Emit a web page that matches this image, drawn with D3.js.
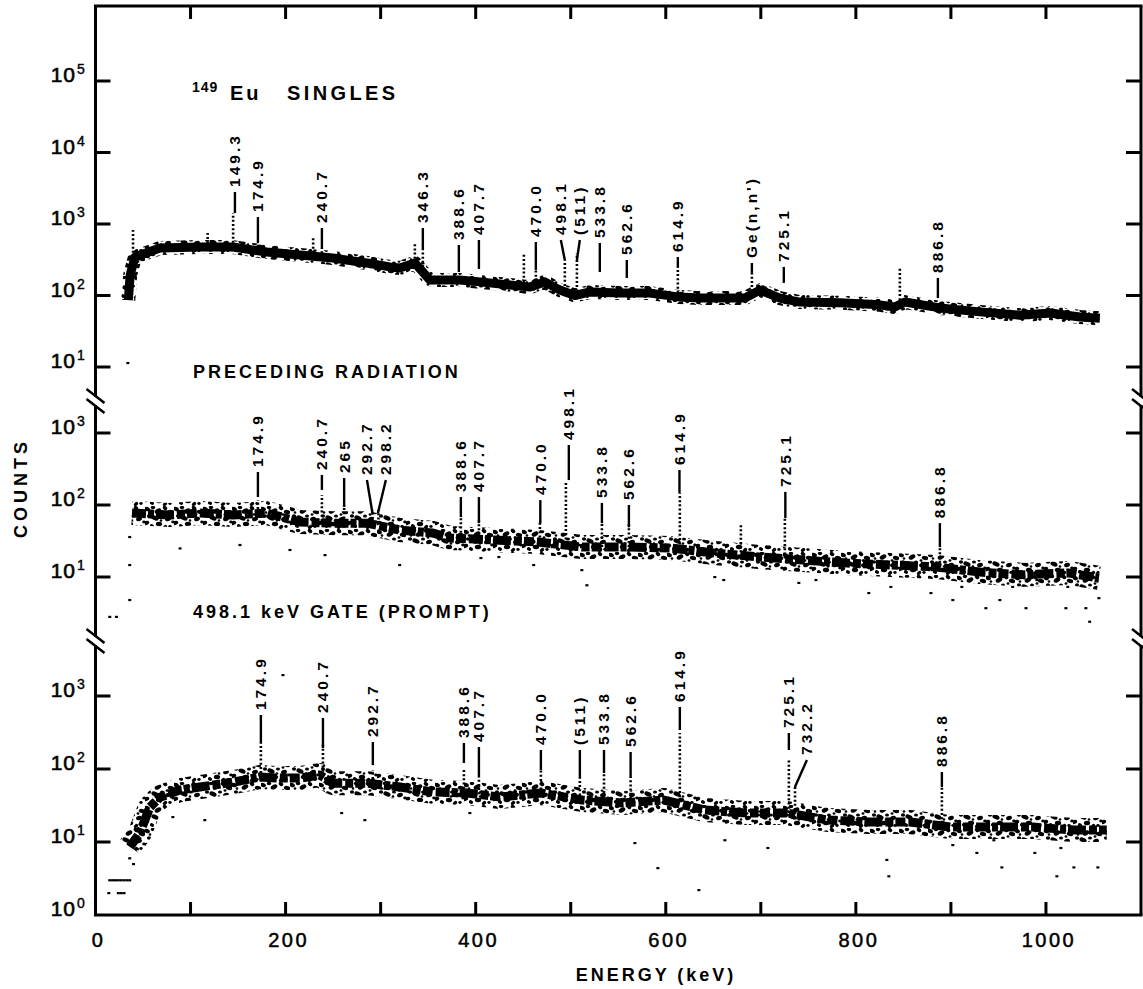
<!DOCTYPE html>
<html>
<head>
<meta charset="utf-8">
<script src="https://cdn.jsdelivr.net/npm/d3@7/dist/d3.min.js"></script>
<style>
  html, body { margin: 0; padding: 0; background: #fff; }
  svg { display: block; }
  text { font-family: "Liberation Sans", Arial, sans-serif; fill: #000; }
</style>
</head>
<body>
<div id="chart"></div>
<script>
// ---------------- data ----------------
// x tick values (keV)
const xTicks = [100, 200, 300, 400, 500, 600, 700, 800, 900, 1000];
const xTickLabels = [0, 200, 400, 600, 800, 1000];

// 149Eu singles: continuum (energy keV, counts)
const singlesE = [34.5, 36.5, 41.5, 67.8, 109.8, 144.6, 180.3, 215, 249.7, 285.5, 309.7, 320.2, 336, 351.8, 383.4, 404.4, 436, 457, 472.8, 488.6, 504.4, 520.2, 551.8, 583.3, 614.9, 635.9, 667.5, 683.3, 699, 720, 741, 783.2, 825.2, 841, 851.6, 888.4, 930.5, 972.6, 1004.1, 1035.7, 1056.7];
const singlesC = [86, 194, 345, 461, 476, 476, 405, 368, 334, 285, 251, 243, 285, 165, 165, 155, 140, 131, 155, 119, 100, 112, 108, 108, 95, 92, 92, 92, 119, 92, 81, 79, 74, 69, 81, 67, 59, 53, 57, 50, 48];
// peaks: [energy, base counts, top counts]
const singlesPeaks = [[39.5, 345, 824], [118, 470, 748], [144.8, 476, 1425], [170.9, 420, 542], [229, 345, 637], [238.2, 340, 461], [336, 285, 542], [344.4, 250, 433], [450.7, 135, 393], [463.3, 140, 228], [493.8, 119, 314], [506.5, 100, 393], [612.7, 95, 243], [690.6, 100, 207], [846.3, 75, 251]];
const singlesStray = [[34, 11.4]];
// labels: [text, text energy, leader end energy, leader top counts, leader bottom counts]
const singlesLabels = [
  ["149.3", 146.7, 146.7, 2805, 1425], ["174.9", 170.9, 170.9, 1254, 542], ["240.7", 238.2, 238.2, 879, 461],
  ["346.3", 344.4, 344.4, 879, 433], ["388.6", 382.3, 382.3, 508, 213], ["407.7", 403.4, 403.4, 597, 235],
  ["470.0", 463.3, 463.3, 560, 228], ["498.1", 489.6, 493.8, 597, 314], ["(511)", 509.6, 506.5, 597, 314],
  ["533.8", 530.6, 530.6, 542, 213], ["562.6", 559, 559, 314, 176], ["614.9", 612.7, 612.7, 345, 243],
  ["Ge(n,n')", 690.6, 690.6, 285, 207], ["725.1", 724.2, 724.2, 251, 150], ["886.8", 886.3, 886.3, 176, 92]
];

// preceding radiation
const precedingE = [38.4, 78.3, 109.8, 144.6, 180.3, 215, 249.7, 285.5, 320.2, 354.9, 372.8, 419.2, 465.5, 511.8, 559.1, 605.4, 651.7, 698, 744.2, 790.5, 836.9, 884.2, 930.5, 976.8, 1023.1, 1055.7];
const precedingC = [77.4, 72.6, 77.4, 72.6, 77.4, 58, 56, 56, 45, 40.8, 34.8, 32.7, 30.6, 26.1, 26.1, 25.3, 21.5, 19, 17.2, 15.6, 14.7, 13.8, 11.7, 10.7, 11.4, 9.7];
const precedingPeaks = [[170.9, 77, 117], [238.2, 60, 138], [261.6, 57, 100], [291.4, 56, 85], [297.7, 55, 85], [384.4, 36, 68], [403.4, 34, 61], [467.6, 31, 61], [494.9, 29, 202], [532.8, 26, 58], [561.2, 26, 56], [614.8, 25, 147], [679, 22, 52.6], [725.3, 18, 66], [888.4, 13.8, 26]];
const precedingStray = [[936.8, 3.7], [979, 3.7], [1042, 3.7], [1046, 2.4], [1021, 3.7], [951.5, 4.8], [902, 4.8], [965, 7.3], [911.5, 7.3], [990.5, 9.1], [1023, 7.3], [1055.7, 5.1], [813.6, 6], [879, 6], [836.8, 7.3], [740, 8.3], [758, 9.1], [661, 9.1], [651.6, 10], [517, 7.7], [511.7, 12.5], [461, 14.7], [424.4, 19], [405.5, 18.4], [36, 36], [36, 14.7], [36, 4.8], [15, 2.8], [22, 2.8], [89, 25], [152, 27.9], [204.6, 23.8], [241.5, 20.2], [320, 14.7]];
const precedingLabels = [
  ["174.9", 170.9, 170.9, 287, 129], ["240.7", 238.2, 238.2, 261, 162], ["265", 261.6, 261.6, 237, 94],
  ["292.7", 285.6, 291.4, 222, 77], ["298.2", 305.5, 297.1, 222, 77], ["388.6", 384.4, 384.4, 129, 68],
  ["407.7", 403.4, 403.4, 129, 56], ["470.0", 468, 468, 117, 56], ["498.1", 498, 498, 681, 222],
  ["533.8", 532.8, 532.8, 107, 56], ["562.6", 561.2, 561.2, 100, 49], ["614.9", 614.4, 614.4, 306, 147],
  ["725.1", 725.8, 725.8, 152, 66], ["886.8", 888.4, 888.4, 56, 26]
];

// 498.1 keV gate (prompt)
const gateE = [36.2, 46.7, 57.2, 67.8, 88.8, 109.8, 144.6, 173, 194, 215, 236, 249.7, 285.5, 320.2, 354.9, 390.8, 425.5, 468.6, 511.8, 554.9, 598, 641.1, 684.3, 727.4, 770.5, 813.7, 856.8, 900, 943.1, 986.3, 1029.4, 1064];
const gateC = [8.6, 13.3, 30, 41, 51.5, 56.6, 66, 77.6, 75, 75, 82.6, 64, 64, 56.6, 48.5, 47, 41.3, 46.9, 37.6, 34.2, 37.6, 27.4, 24.9, 24.9, 20, 18.8, 18.8, 16, 16, 16, 14.6, 14.6];
const gatePeaks = [[174, 77, 227], [239.3, 80, 227], [291.8, 64, 97], [387.6, 47, 103], [403.4, 45, 77.6], [468.6, 46, 97], [509.6, 38, 77.6], [535, 36, 88], [563, 34, 77.6], [614.8, 36, 311], [729.5, 25, 133], [736, 24, 56.6], [890.5, 18, 56.6]];
const gateStray = [[832.6, 5.7], [834.7, 3.4], [927.3, 7.1], [953.6, 4.5], [988.3, 7.1], [1015.7, 8.3], [1029.4, 4.5], [1054.6, 4.5], [1011.5, 3.4], [591.7, 4.4], [634.8, 2.2], [567.5, 9.7], [707.4, 8.3], [662.2, 10.6], [945.2, 10.6], [902, 9.1], [115, 20], [259, 25], [283.4, 20], [81.4, 22], [393.9, 25], [197.2, 1940],
  [15, 3], [18, 3], [21, 3], [24, 3], [27, 3], [30, 3], [33, 3], [36, 3], [14, 2], [24, 2], [27, 2], [30, 2], [36, 6], [38, 10], [40, 5], [42, 15], [44, 8]];
const gateLabels = [
  ["174.9", 174, 174, 549, 227], ["240.7", 239.3, 239.3, 500, 194], ["292.7", 291.8, 291.8, 234, 113],
  ["388.6", 387.6, 387.6, 227, 121], ["407.7", 403.4, 403.4, 200, 77.6], ["470.0", 468.6, 468.6, 182, 97],
  ["(511)", 509.6, 509.6, 182, 77.6], ["533.8", 535, 535, 182, 88], ["562.6", 563, 563, 171, 77.6],
  ["614.9", 614.8, 614.8, 707, 342], ["725.1", 729.5, 729.5, 311, 182], ["732.2", 748.5, 735.9, 133, 56.6],
  ["886.8", 890.5, 890.5, 91, 56.6]
];

// y tick exponents per panel
const singlesTicks = [1, 2, 3, 4, 5];
const precedingTicks = [1, 2, 3];
const gateTicks = [0, 1, 2, 3];

// ---------------- layout ----------------
const W = 1143, H = 989;
const fLeft = 95.5, fRight = 1141, fTop = 6, fBottom = 915;

const svg = d3.select("#chart").append("svg").attr("width", W).attr("height", H);

// blotchy texture used to paint the scattered spectra
const defs = svg.append("defs");
const pat = defs.append("pattern").attr("id", "speckle").attr("patternUnits", "userSpaceOnUse")
  .attr("width", 29).attr("height", 23);
[[2, 3, 3, 2, 20], [8, 1.5, 2.2, 1.7, 0], [13, 5, 3.6, 2.2, -30], [20, 2, 2.5, 1.8, 40], [26, 6, 3.3, 2.1, 10],
 [4, 10, 2.1, 1.7, 0], [10, 12, 3.8, 2.3, 25], [17, 10, 2, 1.6, 0], [23, 13, 3, 2.1, -20], [28, 16, 1.8, 1.4, 0],
 [1, 17, 3.3, 2, -15], [7, 20, 2.2, 1.7, 30], [14, 18, 3.2, 2.2, 5], [20, 21, 2.4, 1.7, -40], [25, 20.5, 1.7, 1.4, 0],
 [16, 14.5, 1.3, 1.3, 0], [5, 6.5, 1.3, 1.3, 0], [22, 8.5, 1.4, 1.3, 0]]
  .forEach(([cx, cy, rx, ry, a]) => pat.append("ellipse")
    .attr("cx", cx).attr("cy", cy).attr("rx", rx).attr("ry", ry)
    .attr("transform", `rotate(${a},${cx},${cy})`).attr("fill", "#000"));

const x = d3.scaleLinear().domain([0, 1100]).range([fLeft, fRight]);

const panels = [
  { name: "singles", y: d3.scaleLog().domain([10, 1e5]).range([367, 81]), E: singlesE, C: singlesC,
    peaks: singlesPeaks, stray: singlesStray, labels: singlesLabels, ticks: singlesTicks, solid: true },
  { name: "preceding", y: d3.scaleLog().domain([10, 1e3]).range([577, 433]), E: precedingE, C: precedingC,
    peaks: precedingPeaks, stray: precedingStray, labels: precedingLabels, ticks: precedingTicks, solid: false },
  { name: "gate", y: d3.scaleLog().domain([1, 1e3]).range([915, 696]), E: gateE, C: gateC,
    peaks: gatePeaks, stray: gateStray, labels: gateLabels, ticks: gateTicks, solid: false }
];

const breaks = [401, 641];

// ---------------- frame ----------------
const frame = svg.append("g").attr("stroke", "#000").attr("stroke-width", 3).attr("fill", "none");
frame.append("line").attr("x1", fLeft - 1.5).attr("x2", fRight + 1.5).attr("y1", fTop).attr("y2", fTop);
frame.append("line").attr("x1", fLeft - 1.5).attr("x2", fRight + 1.5).attr("y1", fBottom).attr("y2", fBottom);

// vertical sides with gaps at the breaks
const segs = [[fTop, breaks[0] - 4], [breaks[0] + 4, breaks[1] - 4], [breaks[1] + 4, fBottom]];
[fLeft, fRight].forEach(sx => {
  segs.forEach(([a, b]) => frame.append("line").attr("x1", sx).attr("x2", sx).attr("y1", a).attr("y2", b));
  breaks.forEach(by => {
    [-5, 5].forEach(o => frame.append("line")
      .attr("x1", sx - 9).attr("y1", by + o - 7)
      .attr("x2", sx + 9).attr("y2", by + o + 7)
      .attr("stroke-width", 2.5));
  });
});

// x ticks top & bottom
xTicks.forEach(v => {
  frame.append("line").attr("x1", x(v)).attr("x2", x(v)).attr("y1", fBottom).attr("y2", fBottom - 13);
  frame.append("line").attr("x1", x(v)).attr("x2", x(v)).attr("y1", fTop).attr("y2", fTop + 13);
});

svg.append("g").selectAll("text").data(xTickLabels).join("text")
  .attr("x", d => x(d) + 3).attr("y", 947)
  .attr("text-anchor", "middle")
  .attr("font-size", 20).attr("letter-spacing", 2.5)
  .attr("stroke", "#000").attr("stroke-width", 0.5)
  .text(d => d);

svg.append("text").attr("x", 656).attr("y", 981).attr("text-anchor", "middle")
  .attr("font-size", 18).attr("letter-spacing", 3).attr("font-weight", "bold").text("ENERGY (keV)");

svg.append("text").attr("transform", "translate(27,488) rotate(-90)").attr("text-anchor", "middle")
  .attr("font-size", 18).attr("letter-spacing", 4).attr("font-weight", "bold").text("COUNTS");

// ---------------- panels ----------------
panels.forEach(p => {
  const y = p.y;

  // y ticks, both sides
  p.ticks.forEach(e => {
    const ty = y(Math.pow(10, e));
    if (ty < fBottom - 2) {
      frame.append("line").attr("x1", fLeft).attr("x2", fLeft + 15).attr("y1", ty).attr("y2", ty);
      frame.append("line").attr("x1", fRight).attr("x2", fRight - 15).attr("y1", ty).attr("y2", ty);
    }
    svg.append("text").attr("x", 76).attr("y", ty + 1).attr("text-anchor", "end")
      .attr("font-size", 21).attr("letter-spacing", 1)
      .attr("stroke", "#000").attr("stroke-width", 0.6).text("10");
    svg.append("text").attr("x", 77).attr("y", ty - 7).attr("font-size", 14)
      .attr("stroke", "#000").attr("stroke-width", 0.4).text(e);
  });

  const g = svg.append("g").attr("class", p.name);
  const pts = p.E.map((e, i) => [e, p.C[i]]);
  const line = d3.line().x(d => x(d[0])).y(d => y(d[1]));

  if (p.solid) {
    g.append("path").datum(pts).attr("d", line).attr("fill", "none")
      .attr("stroke", "url(#speckle)").attr("stroke-width", 14).attr("stroke-linejoin", "round");
    g.append("path").datum(pts).attr("d", line).attr("fill", "none")
      .attr("stroke", "#000").attr("stroke-width", 9).attr("stroke-linejoin", "round");
  } else {
    g.append("path").datum(pts).attr("d", line).attr("fill", "none")
      .attr("stroke", "url(#speckle)").attr("stroke-width", 24).attr("stroke-linejoin", "round");
    g.append("path").datum(pts).attr("d", line).attr("fill", "none")
      .attr("stroke", "#000").attr("stroke-width", 9).attr("stroke-linejoin", "round")
      .attr("stroke-dasharray", "14 2 6 2 18 3 8 2 10 3");
  }

  // peaks as dotted spikes
  g.selectAll("line.peak").data(p.peaks).join("line").attr("class", "peak")
    .attr("x1", d => x(d[0])).attr("x2", d => x(d[0]))
    .attr("y1", d => y(d[1])).attr("y2", d => y(d[2]))
    .attr("stroke", "#000").attr("stroke-width", 2.6).attr("stroke-dasharray", "2 2.2");

  // stray channel points
  g.selectAll("rect.stray").data(p.stray).join("rect").attr("class", "stray")
    .attr("x", d => x(d[0]) - 1.5).attr("y", d => y(d[1]) - 1)
    .attr("width", 3).attr("height", 2.2).attr("fill", "#000");

  // labels with leaders
  const lab = g.selectAll("g.lab").data(p.labels).join("g").attr("class", "lab");
  lab.append("line")
    .attr("x1", d => x(d[1])).attr("y1", d => y(d[3]))
    .attr("x2", d => x(d[2])).attr("y2", d => y(d[4]))
    .attr("stroke", "#000").attr("stroke-width", 2.4);
  lab.append("text")
    .attr("transform", d => `translate(${x(d[1]) + 5.5},${y(d[3]) - 5}) rotate(-90)`)
    .attr("font-size", 15.5).attr("font-weight", "bold").attr("letter-spacing", 3)
    .text(d => d[0]);
});

// ---------------- panel titles ----------------
svg.append("text").attr("x", 192).attr("y", 92).attr("font-size", 14).attr("font-weight", "bold")
  .attr("letter-spacing", 1).text("149");
svg.append("text").attr("x", 230).attr("y", 100).attr("font-size", 20).attr("font-weight", "bold")
  .attr("letter-spacing", 3).text("Eu");
svg.append("text").attr("x", 287).attr("y", 100).attr("font-size", 20).attr("font-weight", "bold")
  .attr("letter-spacing", 3.4).text("SINGLES");
svg.append("text").attr("x", 193).attr("y", 378).attr("font-size", 18).attr("font-weight", "bold")
  .attr("letter-spacing", 3).text("PRECEDING RADIATION");
svg.append("text").attr("x", 193).attr("y", 618).attr("font-size", 18).attr("font-weight", "bold")
  .attr("letter-spacing", 3).text("498.1 keV GATE (PROMPT)");
</script>
</body>
</html>
